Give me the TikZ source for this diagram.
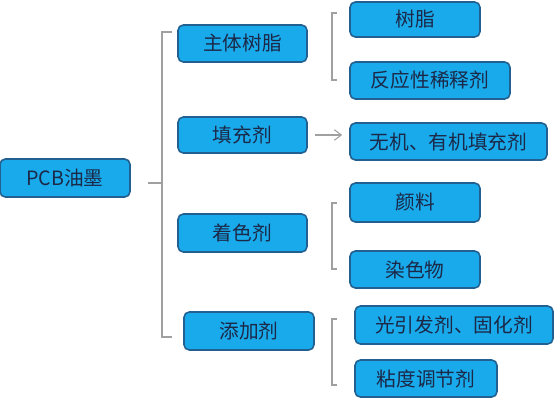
\documentclass[tikz,border=0pt]{standalone}
\usepackage{fontspec}
\setmainfont{Noto Sans CJK SC}
\usetikzlibrary{arrows.meta}

\definecolor{boxfill}{RGB}{24,170,234}
\definecolor{boxline}{RGB}{34,96,146}
\definecolor{boxtext}{RGB}{28,40,72}
\definecolor{bracegray}{RGB}{160,160,160}

\begin{document}
\begin{tikzpicture}[
    x=0.02cm, y=-0.02cm,
    item/.style={
        draw=boxline,
        line width=0.9pt,
        fill=boxfill,
        rounded corners=3pt,
        text=boxtext,
        inner sep=0pt,
        minimum height=0.74cm,
        font=\fontsize{11.2}{12}\selectfont
    },
    brace/.style={
        draw=bracegray,
        line width=0.6pt
    },
    link/.style={
        -{Straight Barb[length=4pt,width=6pt]},
        draw=bracegray,
        line width=0.6pt,
        shorten <=4pt,
        shorten >=4pt
    }
]
\useasboundingbox (0,0) rectangle (554,400);

% Root
\node[item, minimum width=2.6cm, minimum height=0.76cm] (pcb) at (65,178) {PCB油墨};

% Components
\node[item, minimum width=2.58cm] (zhuti) at (242.5,43.5) {主体树脂};
\node[item, minimum width=2.58cm, minimum height=0.72cm] (tianchong) at (242.5,135) {填充剂};
\node[item, minimum width=2.58cm, minimum height=0.76cm] (zhuose) at (242.5,233) {着色剂};
\node[item, minimum width=2.6cm, minimum height=0.76cm] (tianjia) at (249,331) {添加剂};

% Details
\node[item, minimum width=2.6cm, minimum height=0.7cm] (shuzhi) at (415,19.5) {树脂};
\node[item, minimum width=3.2cm] (fanying) at (430,80.5) {反应性稀释剂};
\node[item, minimum width=3.94cm] (wuji) at (448.5,141.5) {无机、有机填充剂};
\node[item, minimum width=2.6cm, minimum height=0.78cm] (yanliao) at (415,202.5) {颜料};
\node[item, minimum width=2.6cm] (ranse) at (415,269.5) {染色物};
\node[item, minimum width=3.96cm, minimum height=0.76cm] (guangyin) at (454,325) {光引发剂、固化剂};
\node[item, minimum width=2.84cm] (niandu) at (426,378.5) {粘度调节剂};

% Brackets
\coordinate (rootTip) at (148,183);
\coordinate (rootMid) at (162,183);
\draw[brace] (172,32) -| (162,337) -- (172,337);
\draw[brace] (rootTip) -- (rootMid);

\draw[brace] (337,13) -| (332,80) -- (337,80);
\draw[brace] (337,203) -| (332,269) -- (337,269);
\draw[brace] (337,319) -| (332,385) -- (337,385);

% Arrow
\draw[link] (tianchong.east) -- (tianchong.east -| wuji.west);

\end{tikzpicture}
\end{document}
